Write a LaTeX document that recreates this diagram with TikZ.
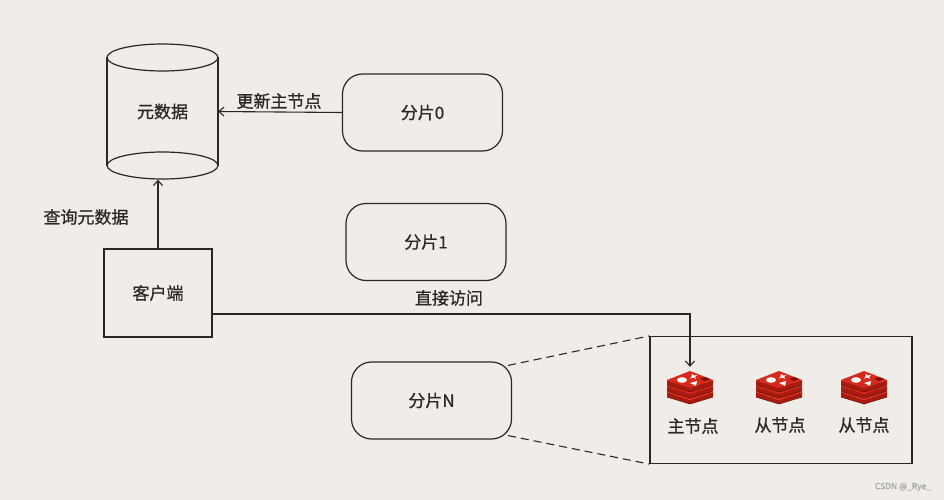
\documentclass[tikz,border=0pt]{standalone}
\usepackage{fontspec}
\setmainfont{Noto Sans CJK SC}[FakeBold=0.8]
\usetikzlibrary{arrows.meta}
\definecolor{bg}{HTML}{F0ECE7}
\definecolor{ink}{HTML}{2A2725}
\definecolor{rtop}{HTML}{D8291C}
\definecolor{rside}{HTML}{A81C10}
\definecolor{rdark}{HTML}{7A0F06}
\tikzset{
  lbl/.style={font=\fontsize{17}{20}\selectfont, text=ink, inner sep=0pt},
  shard/.style={draw=ink, line width=1.2pt, rounded corners=20pt, minimum width=160pt, minimum height=77pt, lbl},
  plainbox/.style={draw=ink, line width=1.2pt, inner sep=0pt},
  conn/.style={draw=ink, line width=1.1pt},
  arr/.style={conn, -{Straight Barb[length=5pt,width=9pt]}},
  dashline/.style={conn, dash pattern=on 8pt off 5pt},
  redis/.pic={
    \foreach \o in {5,-1,-7}{
      \fill[rside] (-23,\o) -- (0,\o+8) -- (23,\o) -- (23,\o+5) -- (0,\o+12) -- (-23,\o+5) -- cycle;
      \draw[rdark, line width=0.6pt] (-23,\o+5) -- (0,\o+12) -- (23,\o+5);
      \fill[rtop] (-23,\o) -- (0,\o-9) -- (23,\o) -- (0,\o+8) -- cycle;
    }
    \fill[white] (-8,-7) ellipse [x radius=5pt, y radius=2.8pt];
    \fill[white] (2,-13) -- (4,-11.5) -- (7,-12) -- (5,-10) -- (6,-8) -- (3,-9.5) -- (0,-8.5) -- (1.5,-10.5) -- cycle;
    \fill[white] (0,-4) -- (7,-6) -- (6,-1) -- cycle;
    \fill[rdark] (10,-8) -- (15,-10) -- (20,-8) -- (15,-6) -- cycle;
  }
}
\begin{document}
\begin{tikzpicture}[x=1pt, y=-1pt]
\fill[bg] (0,0) rectangle (944,500);
\useasboundingbox (0,0) rectangle (944,500);

% cylinder (metadata)
\node[lbl, minimum width=111pt, minimum height=136pt] (db) at (162.5,111.5) {元数据};
\draw[ink, line width=1.2pt] (107,57.5) -- (107,165.5);
\draw[ink, line width=1.2pt] (218,57.5) -- (218,165.5);
\draw[ink, line width=1.2pt] (162.5,57.5) ellipse [x radius=55.5pt, y radius=13.5pt];
\draw[ink, line width=1.2pt] (162.5,165.5) ellipse [x radius=55.5pt, y radius=13.5pt];

% shards
\node[shard] (s0) at (422.5,112.5) {分片0};
\node[shard] (s1) at (426,242) {分片1};
\node[shard] (sN) at (431.5,400.5) {分片N};

% client
\node[plainbox, lbl, draw=ink, minimum width=108pt, minimum height=88pt] (cl) at (158,293) {客户端};

% group box
\node[plainbox, minimum width=262pt, minimum height=127pt] (grp) at (781,400) {};

% redis icons
\node[inner sep=0pt, minimum width=46pt, minimum height=32pt] (m1) at (690,387) {};
\node[inner sep=0pt, minimum width=46pt, minimum height=32pt] (m2) at (779,387) {};
\node[inner sep=0pt, minimum width=46pt, minimum height=32pt] (m3) at (864,387) {};
\pic at (m1) {redis};
\pic at (m2) {redis};
\pic at (m3) {redis};
\node[lbl] (l1) at (693,426) {主节点};
\node[lbl] (l2) at (780,425) {从节点};
\node[lbl] (l3) at (864,425) {从节点};

% connectors
\draw[arr] (s0.west) -- (db.east);
\node[lbl] (t0) at (279,101) {更新主节点};
\draw[arr] (cl.north) -- (cl.north |- db.south);
\node[lbl] (t1) at (86,217) {查询元数据};
\coordinate (clout) at (212,314);
\draw[arr, shorten >=4pt] (clout) -| (m1.north);
\node[lbl] (t2) at (449,298) {直接访问};
\draw[dashline] ([xshift=-4pt,yshift=-4pt]sN.north east) -- (grp.north west);
\draw[dashline] ([xshift=-4pt,yshift=4pt]sN.south east) -- (grp.south west);

% watermark
\node[font=\fontsize{8.5}{10}\selectfont, text=black!35, inner sep=0pt] (wm) at (903,487) {CSDN @\_Rye\_};
\end{tikzpicture}
\end{document}
